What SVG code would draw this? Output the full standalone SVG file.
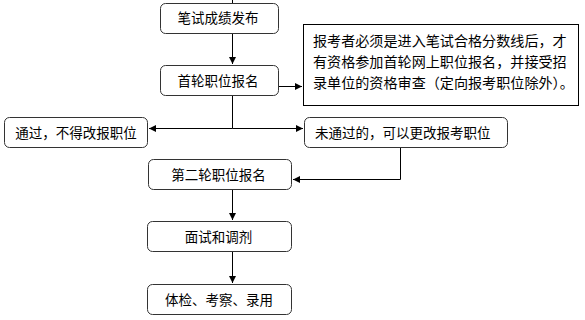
<svg xmlns="http://www.w3.org/2000/svg" width="585" height="320" viewBox="0 0 585 320">
<defs>
<marker id="ah" markerWidth="8" markerHeight="8" refX="7" refY="4" orient="auto" markerUnits="userSpaceOnUse">
<path d="M0,0.5 L7,4 L0,7.5 Z" fill="#000"/>
</marker>
<style>
.box{fill:#fff;stroke:#333;stroke-width:1}
.t{font-family:"Noto Sans CJK SC","Noto Sans CJK JP",sans-serif;font-size:13.5px;fill:#000}
.n{font-size:14.1px}
.c{text-anchor:middle}
.ln{fill:none;stroke:#000;stroke-width:1}
</style>
</defs>
<rect width="585" height="320" fill="#fff"/>
<g id="connectors">
<line class="ln" x1="232.5" y1="0" x2="232.5" y2="3"/>
<line class="ln" x1="232.5" y1="34" x2="232.5" y2="64" marker-end="url(#ah)"/>
<line class="ln" x1="279" y1="86.5" x2="302" y2="86.5" marker-end="url(#ah)"/>
<line class="ln" x1="232.5" y1="96" x2="232.5" y2="128.5"/>
<line class="ln" x1="232.5" y1="128.5" x2="149" y2="128.5" marker-end="url(#ah)"/>
<line class="ln" x1="232.5" y1="128.5" x2="303" y2="128.5" marker-end="url(#ah)"/>
<polyline class="ln" points="400.5,148 400.5,179.5 293,179.5" marker-end="url(#ah)"/>
<line class="ln" x1="232.5" y1="190" x2="232.5" y2="220" marker-end="url(#ah)"/>
<line class="ln" x1="232.5" y1="252" x2="232.5" y2="283" marker-end="url(#ah)"/>
</g>
<g id="n1">
<rect class="box" x="160.5" y="3.5" width="118" height="30" rx="5"/>
<text class="t c" x="218" y="23">笔试成绩发布</text>
</g>
<g id="n2">
<rect class="box" x="160.5" y="65.5" width="118" height="30" rx="5"/>
<text class="t c" x="218" y="85.5">首轮职位报名</text>
</g>
<g id="note">
<rect x="303.5" y="24.5" width="275" height="81" fill="#fff" stroke="#000" stroke-width="1"/>
<text class="t n" x="313" y="46">报考者必须是进入笔试合格分数线后，才</text>
<text class="t n" x="313" y="67">有资格参加首轮网上职位报名，并接受招</text>
<text class="t n" x="313" y="88">录单位的资格审查（定向报考职位除外）。</text>
</g>
<g id="n3">
<rect class="box" x="4.5" y="117.5" width="143" height="30" rx="5"/>
<text class="t c" x="76" y="137.5">通过，不得改报职位</text>
</g>
<g id="n4">
<rect class="box" x="304.5" y="117.5" width="203" height="30" rx="5"/>
<text class="t" x="315" y="137.5">未通过的，可以更改报考职位</text>
</g>
<g id="n5">
<rect class="box" x="148.5" y="159.5" width="143" height="30" rx="5"/>
<text class="t c" x="218.5" y="179.5">第二轮职位报名</text>
</g>
<g id="n6">
<rect class="box" x="147.5" y="221.5" width="144" height="30" rx="5"/>
<text class="t c" x="218.5" y="241.5">面试和调剂</text>
</g>
<g id="n7">
<rect class="box" x="147.5" y="284.5" width="144" height="30" rx="5"/>
<text class="t c" x="219" y="304.5">体检、考察、录用</text>
</g>
</svg>
